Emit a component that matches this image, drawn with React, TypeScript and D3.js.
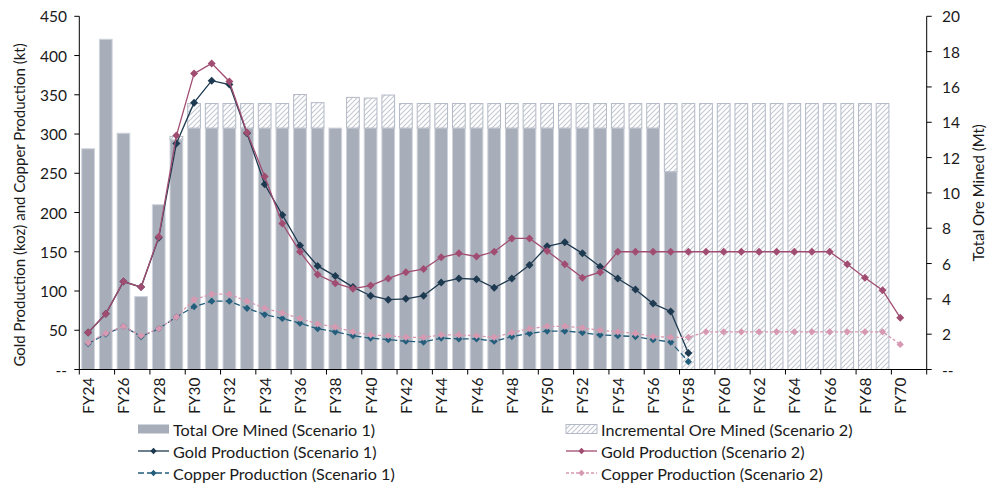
import * as d3 from "d3";

const years = d3.range(24, 72).map((y) => `FY${y}`);

// Total ore mined (Mt), scenario 1 and the scenario 2 increment on top
const oreS1 = [
  12.5, 18.7, 13.38, 4.13, 9.33, 13.0, 13.67, 13.67, 13.67, 13.67, 13.67, 13.67,
  13.67, 13.67, 13.67, 13.67, 13.67, 13.67, 13.67, 13.67, 13.67, 13.67, 13.67, 13.67,
  13.67, 13.67, 13.67, 13.67, 13.67, 13.67, 13.67, 13.67, 13.67, 11.2, 0, 0,
  0, 0, 0, 0, 0, 0, 0, 0, 0, 0, 0, 0,
];
const oreInc = [
  0, 0, 0, 0, 0, 0.2, 1.39, 1.39, 1.39, 1.39, 1.39, 1.39,
  1.9, 1.44, 0, 1.74, 1.7, 1.87, 1.39, 1.39, 1.39, 1.39, 1.39, 1.39,
  1.39, 1.39, 1.39, 1.39, 1.39, 1.39, 1.39, 1.39, 1.39, 3.86, 15.06, 15.06,
  15.06, 15.06, 15.06, 15.06, 15.06, 15.06, 15.06, 15.06, 15.06, 15.06, 0, 0,
];

// Gold (koz) and copper (kt)
const goldS1: (number | null)[] = [
  47, 71, 112, 105, 168, 288, 340, 368, 363, 301, 236, 197,
  158, 132, 119, 105, 94, 89, 90, 94, 111, 116, 115, 104,
  116, 133, 157, 162, 148, 131, 116, 102, 84, 74, 21, null,
  null, null, null, null, null, null, null, null, null, null, null, null,
];
const goldS2: (number | null)[] = [
  47, 71, 112, 105, 169, 298, 377, 390, 367, 302, 246, 186,
  150, 121, 110, 103, 107, 116, 124, 128, 143, 148, 144, 150,
  167, 167, 151, 134, 117, 124, 150, 150, 150, 150, 150, 150,
  150, 150, 150, 150, 150, 150, 150, 134, 117, 101, 66, null,
];
const copperS1: (number | null)[] = [
  33, 45, 55, 42, 52, 67, 80, 87, 87, 78, 70, 65,
  59, 52, 48, 43, 40, 38, 36, 35, 40, 39, 39, 36,
  42, 46, 49, 49, 47, 44, 43, 42, 38, 35, 10, null,
  null, null, null, null, null, null, null, null, null, null, null, null,
];
const copperS2: (number | null)[] = [
  34, 46, 55, 43, 52, 67, 89, 96, 96, 87, 78, 72,
  65, 58, 54, 48, 44, 43, 41, 41, 44, 44, 43, 41,
  47, 52, 55, 55, 53, 50, 48, 46, 42, 41, 41, 48,
  48, 48, 48, 48, 48, 48, 48, 48, 48, 48, 32, null,
];

const leftTicks = d3.range(0, 451, 50);
const rightTicks = d3.range(0, 21, 2);

const W = 989;
const H = 484;
const left = 79.3;
const right = 926.7;
const top = 16.3;
const bottom = 369.5;
const font = "Lato, 'Open Sans', sans-serif";
const textColor = "#1a1a1a";

const lineSeries = [
  { name: "Gold Production (Scenario 1)", data: goldS1, color: "#1E3A50", dash: "", r: 4 },
  { name: "Gold Production (Scenario 2)", data: goldS2, color: "#A14D72", dash: "", r: 4 },
  { name: "Copper Production (Scenario 1)", data: copperS1, color: "#235E7C", dash: "6,3", r: 3.6 },
  { name: "Copper Production (Scenario 2)", data: copperS2, color: "#D799B1", dash: "3,2", r: 3.6 },
];

const diamond = (cx: number, cy: number, r: number) =>
  `M${cx},${cy - r}L${cx + r},${cy}L${cx},${cy + r}L${cx - r},${cy}Z`;

export default function App() {
  const x = d3.scaleBand<string>().domain(years).range([left, right]).paddingInner(0.28).paddingOuter(0.14);
  const step = x.step();
  const cx = (i: number) => left + step * (i + 0.5);
  const yL = d3.scaleLinear().domain([0, 450]).range([bottom, top]);
  const yR = d3.scaleLinear().domain([0, 20]).range([bottom, top]);

  const line = d3
    .line<number | null>()
    .defined((d) => d != null)
    .x((_, i) => cx(i))
    .y((d) => yL(d as number));

  const xTicks = d3.range(0, years.length + 1, 2).map((i) => left + step * i);

  const legend = [
    { col: 0, row: 0, kind: "bar", label: "Total Ore Mined (Scenario 1)" },
    { col: 1, row: 0, kind: "hatch", label: "Incremental Ore Mined (Scenario 2)" },
    { col: 0, row: 1, kind: 0, label: lineSeries[0].name },
    { col: 1, row: 1, kind: 1, label: lineSeries[1].name },
    { col: 0, row: 2, kind: 2, label: lineSeries[2].name },
    { col: 1, row: 2, kind: 3, label: lineSeries[3].name },
  ];
  const legX = [138, 566];
  const legY = [429, 451, 473];

  return (
    <svg
      width={W}
      height={H}
      viewBox={`0 0 ${W} ${H}`}
      style={{ position: "absolute", left: 0, top: 0, background: "#fff" }}
      fontFamily={font}
    >
      <defs>
        <pattern id="hatch" patternUnits="userSpaceOnUse" width={5} height={5}>
          <rect width={5} height={5} fill="#fff" />
          <path d="M-1,1L1,-1M0,5L5,0M4,6L6,4" stroke="#C3C8D1" strokeWidth={1.1} />
        </pattern>
      </defs>

      {/* bars */}
      {years.map((yr, i) => {
        const bx = x(yr) ?? 0;
        const bw = x.bandwidth();
        const s1 = oreS1[i];
        const inc = oreInc[i];
        return (
          <g key={yr}>
            {s1 > 0 && (
              <rect x={bx} y={yR(s1)} width={bw} height={yR(0) - yR(s1)} fill="#A7ADB9" stroke="#D0D4DB" strokeWidth={1} />
            )}
            {inc > 0 && (
              <rect
                x={bx}
                y={yR(s1 + inc)}
                width={bw}
                height={yR(s1) - yR(s1 + inc)}
                fill="url(#hatch)"
                stroke="#B3B9C5"
                strokeWidth={1}
              />
            )}
          </g>
        );
      })}

      {/* lines */}
      {lineSeries.map((s) => (
        <g key={s.name}>
          <path d={line(s.data) ?? undefined} fill="none" stroke={s.color} strokeWidth={1.3} strokeDasharray={s.dash || undefined} />
          {s.data.map((d, i) =>
            d == null ? null : <path key={i} d={diamond(cx(i), yL(d), s.r)} fill={s.color} />
          )}
        </g>
      ))}

      {/* axes */}
      <g stroke="#000" strokeWidth={1}>
        <line x1={left} x2={left} y1={top} y2={bottom} />
        <line x1={right} x2={right} y1={top} y2={bottom} />
        <line x1={left} x2={right} y1={bottom} y2={bottom} />
        {leftTicks.map((t) => (
          <line key={t} x1={left - 5} x2={left} y1={yL(t)} y2={yL(t)} />
        ))}
        {rightTicks.map((t) => (
          <line key={t} x1={right} x2={right + 5} y1={yR(t)} y2={yR(t)} />
        ))}
        {xTicks.map((t, i) => (
          <line key={i} x1={t} x2={t} y1={bottom} y2={bottom + 5} />
        ))}
      </g>
      <g fontSize={15.5} fill={textColor}>
        {leftTicks.map((t) => (
          <text key={t} x={67} y={yL(t)} textAnchor="end" dominantBaseline="central">
            {t === 0 ? "--" : t}
          </text>
        ))}
        {rightTicks.map((t) => (
          <text key={t} x={942} y={yR(t)} textAnchor="start" dominantBaseline="central">
            {t === 0 ? "--" : t}
          </text>
        ))}
        {years.map((yr, i) =>
          i % 2 === 0 ? (
            <text
              key={yr}
              transform={`translate(${cx(i)},${bottom + 8}) rotate(-90)`}
              textAnchor="end"
              dominantBaseline="central"
            >
              {yr}
            </text>
          ) : null
        )}
      </g>
      <g fontSize={15} fill={textColor}>
        <text transform={`translate(19,${(top + bottom) / 2 + 12}) rotate(-90)`} textAnchor="middle" dominantBaseline="central">
          Gold Production (koz) and Copper Production (kt)
        </text>
        <text transform={`translate(978,${(top + bottom) / 2}) rotate(-90)`} textAnchor="middle" dominantBaseline="central">
          Total Ore Mined (Mt)
        </text>
      </g>

      {/* legend */}
      <g fontSize={16.2} fill={textColor}>
        {legend.map((l) => {
          const lx = legX[l.col];
          const ly = legY[l.row];
          let sw;
          if (l.kind === "bar") {
            sw = <rect x={lx} y={ly - 4.5} width={31} height={9} fill="#A7ADB9" />;
          } else if (l.kind === "hatch") {
            sw = <rect x={lx} y={ly - 4.5} width={31} height={9} fill="url(#hatch)" stroke="#B3B9C5" />;
          } else {
            const s = lineSeries[l.kind as number];
            sw = (
              <g>
                <line x1={lx} x2={lx + 31} y1={ly} y2={ly} stroke={s.color} strokeWidth={1.3} strokeDasharray={s.dash || undefined} />
                <path d={diamond(lx + 15.5, ly, 3.2)} fill={s.color} />
              </g>
            );
          }
          return (
            <g key={l.label}>
              {sw}
              <text x={lx + 35} y={ly} dominantBaseline="central">
                {l.label}
              </text>
            </g>
          );
        })}
      </g>
    </svg>
  );
}
